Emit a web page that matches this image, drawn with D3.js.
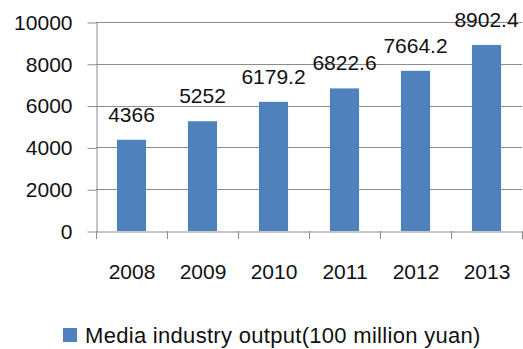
<!DOCTYPE html>
<html>
<head>
<meta charset="utf-8">
<script src="https://cdn.jsdelivr.net/npm/d3@7"></script>
<style>
  body { margin: 0; background: #fff; }
  svg { display: block; font-family: "Liberation Sans", Arial, sans-serif; }
</style>
</head>
<body>
<svg id="chart" width="523" height="349"></svg>
<script>
// data
let years = ["2008", "2009", "2010", "2011", "2012", "2013"];
let output = [4366, 5252, 6179.2, 6822.6, 7664.2, 8902.4];
let yTicks = [0, 2000, 4000, 6000, 8000, 10000];
let seriesName = "Media industry output(100 million yuan)";

let plotL = 96, plotR = 522, plotT = 22, plotB = 231;

let svg = d3.select("#chart");

let x = d3.scaleBand().domain(years).range([plotL, plotR]).paddingInner(0.59).paddingOuter(0.295);
let band = d3.scaleBand().domain(years).range([plotL, plotR]);
let y = d3.scaleLinear().domain([0, 10000]).range([plotB, plotT]);

// gridlines
svg.append("g").selectAll("line")
  .data(yTicks.slice(1))
  .enter().append("line")
    .attr("x1", plotL).attr("x2", plotR)
    .attr("y1", d => Math.round(y(d)) + 0.5).attr("y2", d => Math.round(y(d)) + 0.5)
    .attr("stroke", "#8c8c8c").attr("stroke-width", 1);

// y axis
let yAxis = svg.append("g")
  .attr("transform", `translate(${plotL + 0.5},0.5)`)
  .call(d3.axisLeft(y).tickValues(yTicks).tickFormat(d3.format("d"))
    .tickSize(9).tickPadding(15).tickSizeOuter(0));
yAxis.select(".domain").attr("stroke", "#8c8c8c");
yAxis.selectAll(".tick line").attr("stroke", "#8c8c8c");
yAxis.selectAll("text").attr("font-size", 21).attr("fill", "#111")
  .attr("font-family", "Liberation Sans, Arial, sans-serif");

// bars
svg.selectAll(".bar")
  .data(output)
  .enter().append("rect")
    .attr("class", "bar")
    .attr("x", (d, i) => x(years[i]))
    .attr("y", d => y(d))
    .attr("width", x.bandwidth())
    .attr("height", d => plotB - y(d))
    .attr("fill", "#4f81bd");

// x axis
let xAxis = svg.append("g")
  .attr("transform", `translate(0.5,${plotB + 0.5})`)
  .call(d3.axisBottom(band).tickSize(0).tickPadding(33));
xAxis.select(".domain").attr("stroke", "#8c8c8c");
xAxis.selectAll("text").attr("font-size", 21).attr("fill", "#111")
  .attr("font-family", "Liberation Sans, Arial, sans-serif");
// tick marks between categories
svg.append("g").selectAll("line")
  .data(years.concat(["end"]))
  .enter().append("line")
    .attr("x1", (d, i) => Math.round(plotL + i * band.step()) + 0.5)
    .attr("x2", (d, i) => Math.round(plotL + i * band.step()) + 0.5)
    .attr("y1", plotB).attr("y2", plotB + 8)
    .attr("stroke", "#8c8c8c");

// value labels
svg.selectAll(".lbl")
  .data(output)
  .enter().append("text")
    .attr("class", "lbl")
    .attr("x", (d, i) => band(years[i]) + band.bandwidth() / 2)
    .attr("y", d => y(d) - 18)
    .attr("text-anchor", "middle")
    .attr("font-size", 21)
    .attr("fill", "#111")
    .text(d => d);

// legend
let lg = svg.append("g").attr("transform", "translate(63,328)");
lg.append("rect").attr("width", 14).attr("height", 14).attr("fill", "#4f81bd");
lg.append("text").attr("x", 22).attr("y", 15).attr("font-size", 22)
  .attr("letter-spacing", 0.3).attr("fill", "#111").text(seriesName);
</script>
</body>
</html>
